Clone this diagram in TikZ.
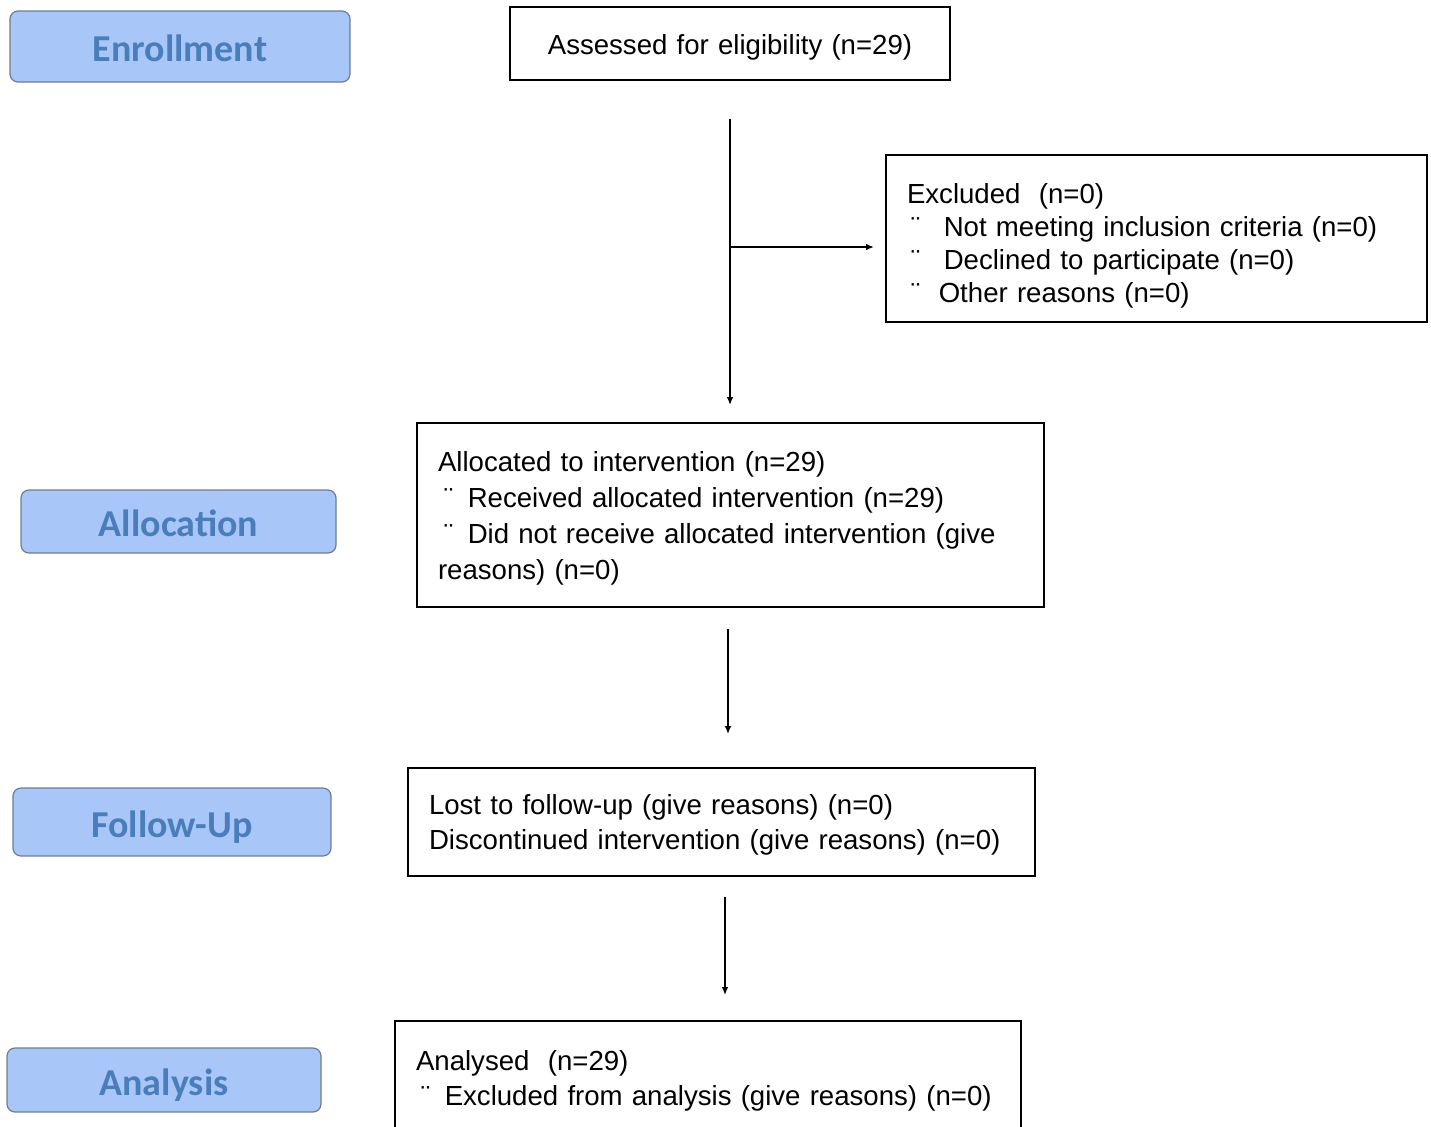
\documentclass[tikz,border=0pt]{standalone}
\usepackage{fontspec}
\setmainfont{Liberation Sans}
\newfontfamily\labelfont{Carlito}
\usepackage{xcolor}
\definecolor{PhaseFill}{HTML}{A9C6F8}
\definecolor{PhaseRule}{HTML}{6E7D92}
\definecolor{PhaseText}{HTML}{4A7EBB}
\usetikzlibrary{arrows.meta,positioning,calc}
% bullet mark: space before, space after
\newcommand{\bmark}[2]{\hspace*{#1}¨\hspace{#2}}

\begin{document}
\begin{tikzpicture}[
  x=0.5pt,y=-0.5pt,
  phase/.style={rounded corners=4pt,draw=PhaseRule,line width=.6pt,fill=PhaseFill,
    text=PhaseText,font=\labelfont\bfseries\fontsize{19}{22}\selectfont,inner sep=0pt,
    text height=15pt,text depth=0pt},
  box/.style={draw,line width=1pt,inner xsep=10.5pt,inner ysep=0pt,align=left,
    font=\fontsize{13.8}{17.5}\selectfont,text height=13pt},
  arr/.style={-{Latex[length=4pt,width=3.4pt]},line width=1pt}
]
\useasboundingbox (0,0) rectangle (1431,1126);

% phase labels
\node[phase,minimum width=170pt,minimum height=35.5pt] (enroll) at (180,46.5) {Enrollment};
\node[phase,minimum width=157.5pt,minimum height=31.5pt] (allocL) at (178.5,521.5) {Allocation};
\node[phase,minimum width=159pt,minimum height=34pt] (followL) at (172,822) {Follow-Up};
\node[phase,minimum width=157pt,minimum height=32pt] (analysisL) at (164,1080) {Analysis};

% flow boxes
\node[box,align=center,text width=199pt,minimum height=36.5pt,text height=14pt] (assess) at (730,43.5)
  {Assessed for eligibility (n=29)};
\node[box,text width=249.5pt,minimum height=83.5pt,text height=17pt,
  font=\fontsize{13.8}{16.5}\selectfont] (excl) at (1156.5,238.5)
  {Excluded~~(n=0)\\
   \bmark{2pt}{11.8pt}Not meeting inclusion criteria (n=0)\\
   \bmark{2pt}{11.8pt}Declined to participate (n=0)\\
   \bmark{2pt}{9.3pt}Other reasons (n=0)};
\node[box,text width=292.5pt,minimum height=92pt,font=\fontsize{13.8}{18}\selectfont] (alloc) at (730.5,515)
  {Allocated to intervention (n=29)\\
   \bmark{3pt}{7.3pt}Received allocated intervention (n=29)\\
   \bmark{3pt}{7.3pt}Did not receive allocated intervention (give\\
   reasons) (n=0)};
\node[box,text width=292.5pt,minimum height=54pt] (lost) at (721.5,822)
  {Lost to follow-up (give reasons) (n=0)\\
   Discontinued intervention (give reasons) (n=0)};
\node[box,text width=292pt,minimum height=56.5pt] (ana) at (708,1077.5)
  {Analysed~~(n=29)\\
   \bmark{2.5pt}{7.3pt}Excluded from analysis (give reasons) (n=0)};

% connectors
\coordinate (split) at (730,247);
\draw[arr,shorten <=19pt,shorten >=8.5pt] (assess) -- (assess |- alloc.north);
\draw[arr,shorten >=5.5pt] (split) -- (split -| excl.west);
\draw[arr,shorten <=10.5pt,shorten >=16.5pt] ([xshift=-1.25pt]alloc.south) -- ([xshift=-1.25pt]alloc.south |- lost.north);
\draw[arr,shorten <=10pt,shorten >=12.5pt] ([xshift=1.75pt]lost.south) -- ([xshift=1.75pt]lost.south |- ana.north);
\end{tikzpicture}
\end{document}
